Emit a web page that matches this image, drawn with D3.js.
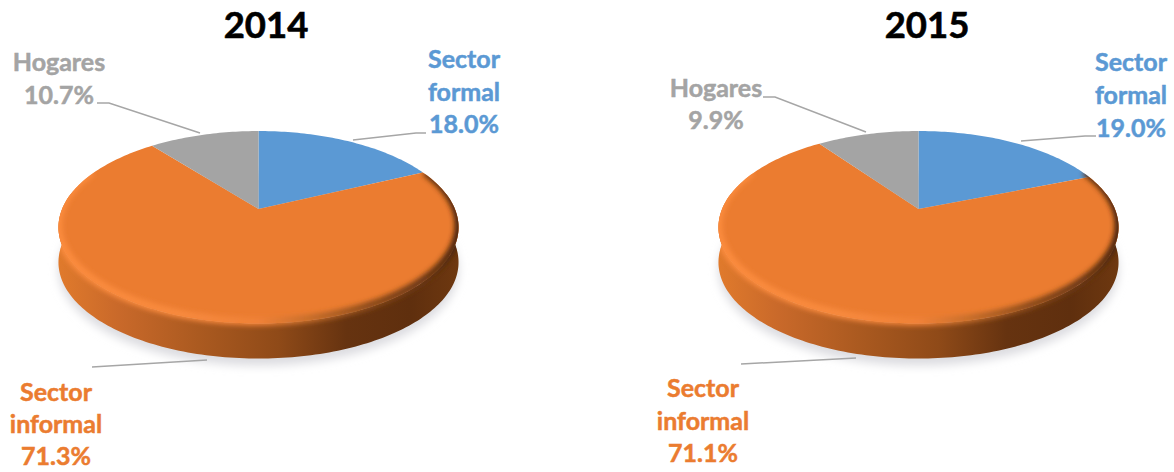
<!DOCTYPE html>
<html>
<head>
<meta charset="utf-8">
<script src="https://cdn.jsdelivr.net/npm/d3@7"></script>
<style>
  html, body { margin: 0; background: #fff; }
  svg { display: block; }
  text { font-family: Lato, "Open Sans", sans-serif; font-weight: 700; text-anchor: middle; }
</style>
</head>
<body>
<div class="canva"></div>
<script>
// values
const years = ['2014', '2015'];
const categories = ['Sector formal', 'Sector informal', 'Hogares'];
const values2014 = [18.0, 71.3, 10.7];
const values2015 = [19.0, 71.1, 9.9];
const colors = ['#5b99d4', '#eb7c30', '#a4a4a4'];

// label layout, one row per category: centre x, baseline of each text line
const labelLines = [['Sector', 'formal'], ['Sector', 'informal'], ['Hogares']];
const layout2014 = {
  cx: 258.5, titleX: 266,
  labels: [[464, [68, 101, 133]], [56, [401, 433, 465]], [59, [71, 104]]],
  leaders: [
    [[353, 140], [416, 133], [426, 133]],
    [[207, 360], [92, 367]],
    [[200, 133], [109, 103], [97, 103]]
  ]
};
const layout2015 = {
  cx: 918.5, titleX: 927,
  labels: [[1131, [71, 104, 137]], [703, [397, 430, 462]], [716, [97, 129]]],
  leaders: [
    [[1021, 141], [1085, 136], [1096, 136]],
    [[856, 358], [741, 364]],
    [[866, 132], [775, 97], [763, 97]]
  ]
};

const apexY = 209;
const depth = 35;
const A = 196.4, K = 92.8, P = 0.19; // perspective of the tilted disc

// angle on the disc -> screen point
const project = (cx, r, a) => {
  const u = r * Math.sin(a), v = r * Math.cos(a), w = 1 / (1 + P * v);
  return [cx + A * u * w, apexY - K * v * w];
};
const steps = (a0, a1) => {
  const n = Math.max(2, Math.ceil(Math.abs(a1 - a0) / 0.02));
  return d3.range(n + 1).map(i => a0 + (a1 - a0) * i / n);
};
const line = d3.line();
const TAU = Math.PI * 2;

const svg = d3.select('.canva').append('svg')
  .attr('width', 1174)
  .attr('height', 472);

const defs = svg.append('defs');
defs.append('filter').attr('id', 'blurShadow')
  .attr('x', '-10%').attr('y', '-10%').attr('width', '120%').attr('height', '120%')
  .append('feGaussianBlur').attr('stdDeviation', 5);
defs.append('filter').attr('id', 'blurBevel')
  .attr('x', '-10%').attr('y', '-10%').attr('width', '120%').attr('height', '120%')
  .append('feGaussianBlur').attr('stdDeviation', 2.6);

const sideStops = [[0, '#e07a2c'], [0.15, '#c9692a'], [0.35, '#ab5a20'], [0.55, '#8f4a18'], [0.72, '#663310'], [0.88, '#5f2f0e'], [1, '#6e3810']];
const bevelStops = [[0, '#fb8b3e'], [0.3, '#f88a3e'], [0.5, '#f08238'], [0.62, '#c96f2c'], [0.78, '#8a4a1a'], [0.95, '#5e3010'], [1, '#4a2408']];

function drawPie(year, values, lay, idx) {
  const cx = lay.cx;
  const g = svg.append('g');

  const side = defs.append('linearGradient').attr('id', 'side' + idx)
    .attr('gradientUnits', 'userSpaceOnUse')
    .attr('x1', cx - 200).attr('x2', cx + 200).attr('y1', 0).attr('y2', 0);
  sideStops.forEach(s => side.append('stop').attr('offset', s[0]).attr('stop-color', s[1]));
  const bevel = defs.append('linearGradient').attr('id', 'bevel' + idx)
    .attr('gradientUnits', 'userSpaceOnUse')
    .attr('x1', cx - 200).attr('x2', cx + 200).attr('y1', 0).attr('y2', 0);
  bevelStops.forEach(s => bevel.append('stop').attr('offset', s[0]).attr('stop-color', s[1]));

  const rim = steps(0, TAU).map(a => project(cx, 1, a));

  // soft shadow under the disc
  g.append('path')
    .attr('d', line(rim.map(p => [p[0], p[1] + depth + 7])) + 'Z')
    .attr('fill', '#dcdce0')
    .attr('filter', 'url(#blurShadow)');

  // side wall: the rim swept down
  const lower = steps(Math.PI / 2 - 0.18, Math.PI * 1.5 + 0.18).map(a => project(cx, 1, a));
  const wall = lower.concat(lower.slice().reverse().map(p => [p[0], p[1] + depth]));
  g.append('path').attr('d', line(wall) + 'Z').attr('fill', `url(#side${idx})`);

  // top face slices
  const arcs = d3.pie().sort(null)(values);
  g.selectAll('path.slice')
    .data(arcs)
    .enter().append('path')
    .attr('class', 'slice')
    .attr('fill', (d, i) => colors[i])
    .attr('d', d => line([[cx, apexY]].concat(steps(d.startAngle, d.endAngle).map(a => project(cx, 1, a)))) + 'Z');

  // bevel: soft band over the edge of the face, kept inside the disc outline
  const clipId = 'disc' + idx;
  defs.append('clipPath').attr('id', clipId)
    .append('path').attr('d', line(rim) + 'Z ' + line(wall) + 'Z');
  const edge = steps(Math.PI / 2 - 0.42, Math.PI * 1.5 + 0.42).map(a => project(cx, 1, a));
  g.append('g').attr('clip-path', `url(#${clipId})`)
    .append('path')
    .attr('d', line(edge.map(p => [p[0], p[1] - 2])))
    .attr('fill', 'none')
    .attr('stroke', `url(#bevel${idx})`)
    .attr('stroke-width', 8)
    .attr('filter', 'url(#blurBevel)');

  // leader lines
  g.selectAll('path.leader')
    .data(lay.leaders)
    .enter().append('path')
    .attr('class', 'leader')
    .attr('d', d => line(d))
    .attr('fill', 'none')
    .attr('stroke', '#a6a6a6')
    .attr('stroke-width', 1.5);

  // title
  g.append('text')
    .attr('x', lay.titleX).attr('y', 38)
    .attr('font-size', 36.5)
    .attr('fill', '#000')
    .attr('stroke', '#000')
    .attr('stroke-width', 0.6)
    .text(year);

  // labels
  lay.labels.forEach((l, i) => {
    const rows = labelLines[i].concat(values[i].toFixed(1) + '%');
    rows.forEach((row, j) => {
      g.append('text')
        .attr('x', l[0]).attr('y', l[1][j])
        .attr('font-size', 25)
        .attr('fill', colors[i])
        .attr('stroke', colors[i])
        .attr('stroke-width', 0.5)
        .text(row);
    });
  });
}

drawPie(years[0], values2014, layout2014, 0);
drawPie(years[1], values2015, layout2015, 1);
</script>
</body>
</html>
